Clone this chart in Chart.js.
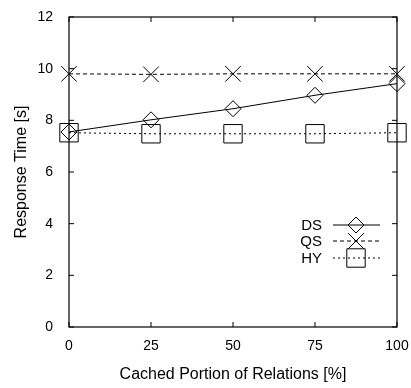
<!DOCTYPE html>
<html>
<head>
<meta charset="utf-8">
<script src="https://cdn.jsdelivr.net/npm/chart.js@4"></script>
<style>
  html, body { margin: 0; padding: 0; background: #fff; }
  #wrap { width: 411px; height: 388px; position: relative; }
</style>
</head>
<body>
<div id="wrap"><canvas id="chart"></canvas></div>
<script>
// cached portion of relations (%)
var portions = [0, 25, 50, 75, 100];
// response times in seconds
var dsTimes = [7.55, 8.02, 8.45, 8.97, 9.42];
var qsTimes = [9.8, 9.78, 9.8, 9.8, 9.8];
var hyTimes = [7.52, 7.48, 7.48, 7.48, 7.52];
var seriesNames = ['DS', 'QS', 'HY'];
var yTicks = [0, 2, 4, 6, 8, 10, 12];

var font = "'Liberation Sans', Arial, sans-serif";

function toPoints(vals) {
  return portions.map(function (p, i) { return { x: p, y: vals[i] }; });
}

// frame on all sides plus inward tick marks, gnuplot style
var framePlugin = {
  id: 'frame',
  afterDatasetsDraw: function (chart) {
    var ctx = chart.ctx;
    var a = chart.chartArea;
    var xs = chart.scales.x, ys = chart.scales.y;
    ctx.save();
    ctx.strokeStyle = '#000';
    ctx.lineWidth = 1.2;
    ctx.strokeRect(a.left, a.top, a.right - a.left, a.bottom - a.top);
    ctx.lineWidth = 1;
    ctx.beginPath();
    portions.forEach(function (p) {
      var px = xs.getPixelForValue(p);
      ctx.moveTo(px, a.bottom); ctx.lineTo(px, a.bottom - 5);
      ctx.moveTo(px, a.top); ctx.lineTo(px, a.top + 5);
    });
    yTicks.forEach(function (t) {
      var py = ys.getPixelForValue(t);
      ctx.moveTo(a.left, py); ctx.lineTo(a.left + 5, py);
      ctx.moveTo(a.right, py); ctx.lineTo(a.right - 5, py);
    });
    ctx.stroke();
    ctx.restore();
  }
};

// legend inside the plot, text on the left and line sample on the right
var keyPlugin = {
  id: 'key',
  afterDatasetsDraw: function (chart) {
    var ctx = chart.ctx;
    var rows = [225, 241, 258];
    ctx.save();
    ctx.font = '15px ' + font;
    ctx.textAlign = 'right';
    ctx.textBaseline = 'middle';
    chart.data.datasets.forEach(function (ds, i) {
      var y = rows[i];
      ctx.fillStyle = '#000';
      ctx.fillText(ds.label, 322, y + 1);
      ctx.strokeStyle = '#000';
      ctx.lineWidth = 1;
      ctx.setLineDash(ds.borderDash || []);
      ctx.beginPath();
      ctx.moveTo(333, y); ctx.lineTo(380, y);
      ctx.stroke();
      ctx.setLineDash([]);
      ctx.fillStyle = 'rgba(0,0,0,0)';
      Chart.helpers.drawPoint(ctx, {
        pointStyle: ds.pointStyle,
        radius: ds.pointRadius,
        borderWidth: 1
      }, 356, y);
    });
    ctx.restore();
  }
};

var commonDs = {
  borderColor: '#000',
  backgroundColor: 'rgba(0,0,0,0)',
  pointBorderColor: '#000',
  pointBackgroundColor: 'rgba(0,0,0,0)',
  borderWidth: 1,
  pointBorderWidth: 1,
  tension: 0,
  clip: false
};

new Chart(document.getElementById('chart'), {
  type: 'line',
  data: {
    datasets: [
      Object.assign({}, commonDs, {
        label: seriesNames[0], data: toPoints(dsTimes),
        pointStyle: 'rectRot', pointRadius: 8
      }),
      Object.assign({}, commonDs, {
        label: seriesNames[1], data: toPoints(qsTimes),
        pointStyle: 'crossRot', pointRadius: 11, borderDash: [4, 3]
      }),
      Object.assign({}, commonDs, {
        label: seriesNames[2], data: toPoints(hyTimes),
        pointStyle: 'rect', pointRadius: 13, borderDash: [2, 3]
      })
    ]
  },
  options: {
    responsive: true,
    maintainAspectRatio: false,
    animation: false,
    layout: { padding: { top: 17, right: 0, left: 12, bottom: 4 } },
    plugins: { legend: { display: false }, tooltip: { enabled: false } },
    scales: {
      x: {
        type: 'linear', min: 0, max: 100,
        afterBuildTicks: function (s) { s.ticks = portions.map(function (v) { return { value: v }; }); },
        grid: { display: false },
        border: { display: false },
        ticks: { color: '#000', font: { family: font, size: 14 }, padding: 3, maxRotation: 0 },
        title: { display: true, text: 'Cached Portion of Relations [%]', color: '#000',
                 font: { family: font, size: 16 }, padding: { top: 12, bottom: 0 } },
        afterFit: function (s) { s.height = 57; s.paddingRight = 12; s.paddingLeft = 0; }
      },
      y: {
        type: 'linear', min: 0, max: 12,
        afterBuildTicks: function (s) { s.ticks = yTicks.map(function (v) { return { value: v }; }); },
        grid: { display: false },
        border: { display: false },
        ticks: { color: '#000', font: { family: font, size: 14 }, padding: 8 },
        title: { display: true, text: 'Response Time [s]', color: '#000',
                 font: { family: font, size: 16 }, padding: 0 },
        afterFit: function (s) { s.width = 57; }
      }
    }
  },
  plugins: [framePlugin, keyPlugin]
});
</script>
</body>
</html>
